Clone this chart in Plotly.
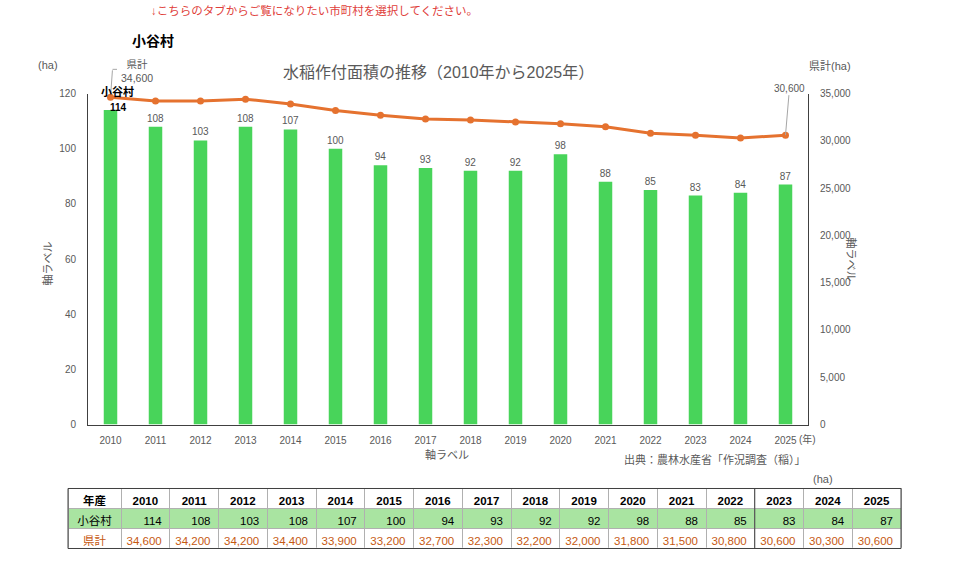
import plotly.graph_objects as go

years = list(range(2010, 2026))
village_name = "小谷村"
village_area = [114, 108, 103, 108, 107, 100, 94, 93, 92, 92, 98, 88, 85, 83, 84, 87]
pref_total = [34600, 34200, 34200, 34400, 33900, 33200, 32700, 32300, 32200, 32000,
              31800, 31500, 30800, 30600, 30300, 30600]
left_ticks = [0, 20, 40, 60, 80, 100, 120]
right_ticks = [0, 5000, 10000, 15000, 20000, 25000, 30000, 35000]

W, H = 960, 568
FONT = "Liberation Sans, Noto Sans CJK JP, sans-serif"
GREY = "#595959"
GREEN = "#48D45A"
ORANGE = "#E5722F"
TBL_GREEN = "#A9E4A1"
TBL_ORANGE = "#C65911"
LEADER = "#a6a6a6"

# the captured page is slightly squeezed vertically; map target pixel rows to paper fractions
VS, VOFF = 0.979, 5.44

def px(x):
    return x / W

def py(y):
    return 1 - ((y - VOFF) / VS) / H

bar_text = ["" if i == 0 else str(v) for i, v in enumerate(village_area)]

fig = go.Figure()
fig.add_trace(go.Bar(
    x=years, y=village_area, width=0.3,
    marker=dict(color=GREEN, line=dict(width=0)),
    text=bar_text, textposition="outside", constraintext="none",
    textfont=dict(size=10, color=GREY, family=FONT),
    cliponaxis=False, showlegend=False, hoverinfo="skip",
))
fig.add_trace(go.Scatter(
    x=years, y=pref_total, yaxis="y2", mode="lines+markers",
    line=dict(color=ORANGE, width=3), marker=dict(color=ORANGE, size=7),
    showlegend=False, cliponaxis=False,
))

# Table
TBL_X0, TBL_X1, TBL_Y0, TBL_Y1 = 68, 901, 488, 548
first_w, col_w = 53, 48.75
header_vals = ["年産"] + [str(y) for y in years]
col_vals = [[village_name, "県計"]] + [[str(a), f"{p:,}"] for a, p in zip(village_area, pref_total)]
fig.add_trace(go.Table(
    domain=dict(x=[px(TBL_X0), px(TBL_X1)], y=[py(TBL_Y1), py(TBL_Y0)]),
    columnwidth=[first_w] + [col_w] * len(years),
    header=dict(values=header_vals, align="center", height=20,
                fill_color="white", line=dict(color="#b0b0b0", width=1),
                font=dict(size=11.5, color="black", family=FONT, weight="bold")),
    cells=dict(values=col_vals, align=["center"] + ["right"] * len(years), height=20,
               fill_color=[[TBL_GREEN, "white"]] * (len(years) + 1),
               line=dict(color="#b0b0b0", width=1),
               font=dict(size=11.5, color=[["black", TBL_ORANGE]] * (len(years) + 1), family=FONT)),
))

axis_common = dict(showgrid=False, zeroline=False, showline=True, linecolor="#404040",
                   linewidth=1, ticks="", tickfont=dict(size=10, color=GREY, family=FONT))

sep_x = TBL_X0 + first_w + 13 * col_w  # solid separator after 2022 column
shapes = [
    dict(type="rect", xref="paper", yref="paper", x0=px(TBL_X0), x1=px(TBL_X1),
         y0=py(TBL_Y1), y1=py(TBL_Y0), line=dict(color="#404040", width=1)),
    dict(type="line", xref="paper", yref="paper", x0=px(sep_x), x1=px(sep_x),
         y0=py(TBL_Y1), y1=py(TBL_Y0), line=dict(color="#404040", width=1)),
]

fig.update_layout(
    width=W, height=H, margin=dict(l=0, r=0, t=0, b=0),
    paper_bgcolor="white", plot_bgcolor="white",
    font=dict(family=FONT, color=GREY),
    xaxis=dict(domain=[px(88), px(808)], range=[2009.5, 2025.5], tickvals=years,
               ticktext=[str(y) for y in years], ticklabelstandoff=6, **axis_common),
    yaxis=dict(domain=[py(424), py(93)], range=[0, 120], tickvals=left_ticks,
               ticklabelstandoff=9, **axis_common),
    yaxis2=dict(overlaying="y", side="right", range=[0, 35000], tickvals=right_ticks,
                tickformat=",", anchor="x", ticklabelstandoff=9, **axis_common),
    bargap=0.7,
    shapes=shapes,
)

ann = []
def t(text, x, y, size=10, color=GREY, xanchor="center", angle=0, bold=False):
    ann.append(dict(text=f"<b>{text}</b>" if bold else text, x=px(x), y=py(y),
                    xref="paper", yref="paper", xanchor=xanchor, yanchor="middle",
                    showarrow=False, textangle=angle,
                    font=dict(size=size, color=color, family=FONT)))

t("↓こちらのタブからご覧になりたい市町村を選択してください。", 314, 10, size=11.5, color="#E0403A")
t(village_name, 153, 40, size=14, color="black", bold=True)
t("(ha)", 48, 64, size=11)
t("県計(ha)", 830, 65, size=11)
t("水稲作付面積の推移（2010年から2025年）", 438, 72, size=16)
t("(年)", 797, 438, size=10, xanchor="left")
t("軸ラベル", 447, 454, size=11)
t("出典：農林水産省「作況調査（稲）」", 808, 459, size=11, xanchor="right")
t("軸ラベル", 48, 263, size=11, angle=-90)
t("軸ラベル", 851, 259, size=11, angle=90)
t("(ha)", 823, 479, size=11)

def at_point(text, x, y, yref, xshift, yshift, size=10, color=GREY, bold=False):
    ann.append(dict(text=f"<b>{text}</b>" if bold else text, x=x, y=y, xref="x", yref=yref,
                    xanchor="center", yanchor="middle", showarrow=False, align="center",
                    xshift=xshift, yshift=yshift,
                    font=dict(size=size, color=color, family=FONT)))

# leader for the first-point callout: vertical stroke plus short top tick
ann.append(dict(text=" ", x=years[0], y=pref_total[0], xref="x", yref="y2",
                showarrow=True, arrowhead=0, arrowwidth=1, arrowcolor=LEADER,
                ax=2, ay=-28, standoff=3, borderpad=0, font=dict(size=1)))
ann.append(dict(text=" ", x=years[0], y=pref_total[0], xref="x", yref="y2",
                xshift=2, yshift=28,
                showarrow=True, arrowhead=0, arrowwidth=1, arrowcolor=LEADER,
                ax=5, ay=0, borderpad=0, font=dict(size=1)))

# first bar: name and bold value
at_point(village_name, years[0], pref_total[0], "y2", 7, 6, size=11, color="black", bold=True)
at_point(str(village_area[0]), years[0], village_area[0], "y", 8, 3, size=10, color="black", bold=True)
# prefecture callout (two lines, one block)
at_point(f"県計<br>{pref_total[0]:,}", years[0], pref_total[0], "y2", 26, 26, size=10.5)
ann.append(dict(text=f"{pref_total[-1]:,}", x=years[-1], y=pref_total[-1], xref="x", yref="y2",
                showarrow=True, arrowhead=0, arrowwidth=1, arrowcolor=LEADER,
                ax=4, ay=-47, font=dict(size=10, color=GREY, family=FONT)))

fig.update_layout(annotations=ann)
fig.write_html("out.html")
